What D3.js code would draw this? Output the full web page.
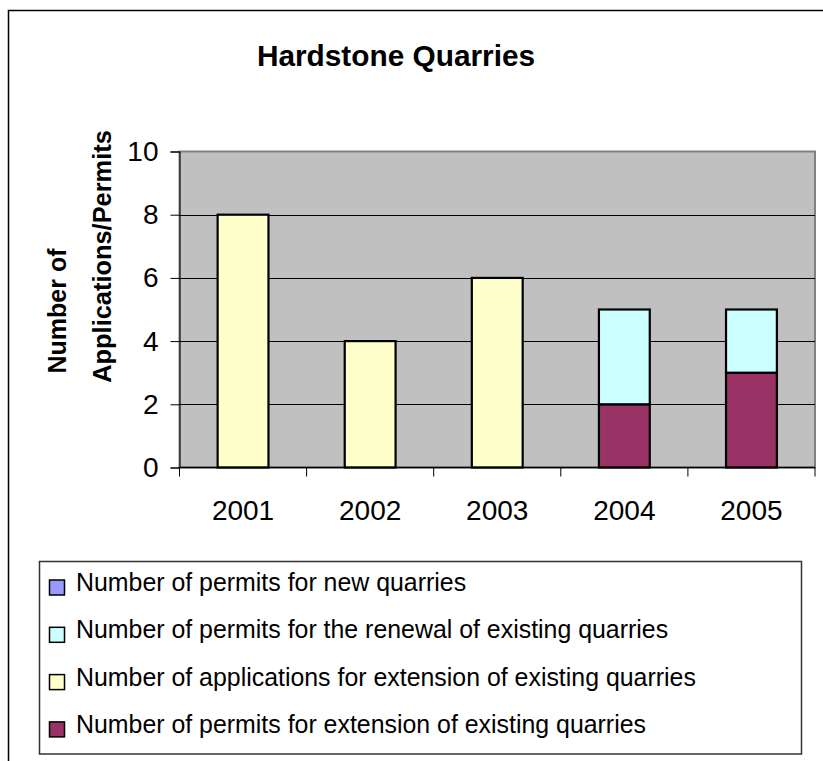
<!DOCTYPE html>
<html>
<head>
<meta charset="utf-8">
<script src="https://cdn.jsdelivr.net/npm/d3@7"></script>
<style>
  html, body { margin: 0; padding: 0; background: #fff; }
  svg { display: block; font-family: Arial, "Liberation Sans", sans-serif; }
</style>
</head>
<body>
<svg id="chart" width="823" height="761"></svg>
<script>
// Hardstone quarries: applications and permits per year
const years = ["2001", "2002", "2003", "2004", "2005"];
const newPermits = [0, 0, 0, 0, 0];
const renewalPermits = [0, 0, 0, 3, 2];
const extensionApplications = [8, 4, 6, 0, 0];
const extensionPermits = [0, 0, 0, 2, 3];
const yTicks = [0, 2, 4, 6, 8, 10];

// Series in stacking order (bottom first)
const seriesNames = [
  "Number of permits for extension of existing quarries",
  "Number of applications for extension of existing quarries",
  "Number of permits for the renewal of existing quarries",
  "Number of permits for new quarries"
];
const seriesValues = [extensionPermits, extensionApplications, renewalPermits, newPermits];
const seriesColors = ["#993366", "#FFFFCC", "#CCFFFF", "#9999FF"];

const rows = years.map((y, i) => {
  const r = { year: y };
  seriesNames.forEach((n, k) => { r[n] = seriesValues[k][i]; });
  return r;
});
const stacked = d3.stack().keys(seriesNames)(rows);

const svg = d3.select("#chart");

// outer chart frame
svg.append("rect")
  .attr("x", 8.5).attr("y", 10.5)
  .attr("width", 900).attr("height", 900)
  .attr("fill", "#fff").attr("stroke", "#000").attr("stroke-width", 1.5);

const plot = { left: 179.5, right: 815, top: 151.5, bottom: 467.5 };

const x = d3.scaleBand().domain(years).range([plot.left, plot.right])
  .paddingInner(0.6).paddingOuter(0.3);
const xOuter = d3.scaleBand().domain(years).range([plot.left, plot.right]);
const y = d3.scaleLinear().domain([0, 10]).range([plot.bottom, plot.top]);

// plot area background
svg.append("rect")
  .attr("x", plot.left).attr("y", plot.top)
  .attr("width", plot.right - plot.left).attr("height", plot.bottom - plot.top)
  .attr("fill", "#C0C0C0").attr("stroke", "#808080").attr("stroke-width", 2);

// gridlines
svg.append("g").selectAll("line")
  .data(yTicks.filter(t => t > 0 && t < 10))
  .join("line")
  .attr("x1", plot.left).attr("x2", plot.right)
  .attr("y1", d => Math.round(y(d)) + 0.5).attr("y2", d => Math.round(y(d)) + 0.5)
  .attr("stroke", "#000").attr("stroke-width", 1);

// stacked bars
svg.append("g").selectAll("g")
  .data(stacked)
  .join("g")
  .attr("fill", (d, i) => seriesColors[i])
  .selectAll("rect")
  .data(d => d.filter(s => s[1] - s[0] > 0))
  .join("rect")
  .attr("x", d => x(d.data.year))
  .attr("width", x.bandwidth())
  .attr("y", d => y(d[1]))
  .attr("height", d => y(d[0]) - y(d[1]))
  .attr("stroke", "#000").attr("stroke-width", 2.2);

// y axis
const yAxis = svg.append("g")
  .attr("transform", `translate(${plot.left},0)`)
  .call(d3.axisLeft(y).tickValues(yTicks).tickSize(9).tickPadding(12));
yAxis.select(".domain").attr("stroke", "#000").attr("stroke-width", 1);
yAxis.selectAll(".tick line").attr("stroke", "#000");
yAxis.selectAll("text").attr("font-size", 28).attr("fill", "#000")
  .attr("font-family", "Arial, 'Liberation Sans', sans-serif");

// x axis with ticks at category boundaries
const xAxisG = svg.append("g").attr("transform", `translate(0,${plot.bottom})`);
xAxisG.append("line")
  .attr("x1", plot.left).attr("x2", plot.right)
  .attr("stroke", "#000").attr("stroke-width", 1.5);
const bounds = years.map(d => xOuter(d)).concat([plot.right]);
xAxisG.selectAll("line.tk").data(bounds).join("line").attr("class", "tk")
  .attr("x1", d => d).attr("x2", d => d).attr("y1", 0).attr("y2", 9)
  .attr("stroke", "#000");
xAxisG.selectAll("text").data(years).join("text")
  .attr("x", d => xOuter(d) + xOuter.bandwidth() / 2)
  .attr("y", 52.5)
  .attr("text-anchor", "middle")
  .attr("font-size", 28)
  .text(d => d);

// title
svg.append("text")
  .attr("x", 396).attr("y", 66)
  .attr("text-anchor", "middle")
  .attr("font-size", 29.8).attr("font-weight", "bold")
  .text("Hardstone Quarries");

// y axis title (two lines, rotated)
svg.append("text")
  .attr("transform", "translate(65.5,311) rotate(-90)")
  .attr("text-anchor", "middle")
  .attr("font-size", 25).attr("font-weight", "bold")
  .text("Number of");
svg.append("text")
  .attr("transform", "translate(110.5,256.5) rotate(-90)")
  .attr("text-anchor", "middle")
  .attr("font-size", 25.4).attr("font-weight", "bold")
  .text("Applications/Permits");

// legend
const legend = svg.append("g");
legend.append("rect")
  .attr("x", 39.5).attr("y", 561.5).attr("width", 762).attr("height", 192.5)
  .attr("fill", "#fff").attr("stroke", "#333").attr("stroke-width", 1.5);
const legendOrder = [3, 2, 1, 0];
const li = legend.selectAll("g.item").data(legendOrder).join("g").attr("class", "item")
  .attr("transform", (d, i) => `translate(0,${591 + i * 47.3})`);
li.append("rect")
  .attr("x", 49.5).attr("y", -11).attr("width", 15).attr("height", 15)
  .attr("fill", d => seriesColors[d]).attr("stroke", "#000").attr("stroke-width", 1.5);
li.append("text")
  .attr("x", 76).attr("y", 0)
  .attr("font-size", 24.9)
  .text(d => seriesNames[d]);
</script>
</body>
</html>
